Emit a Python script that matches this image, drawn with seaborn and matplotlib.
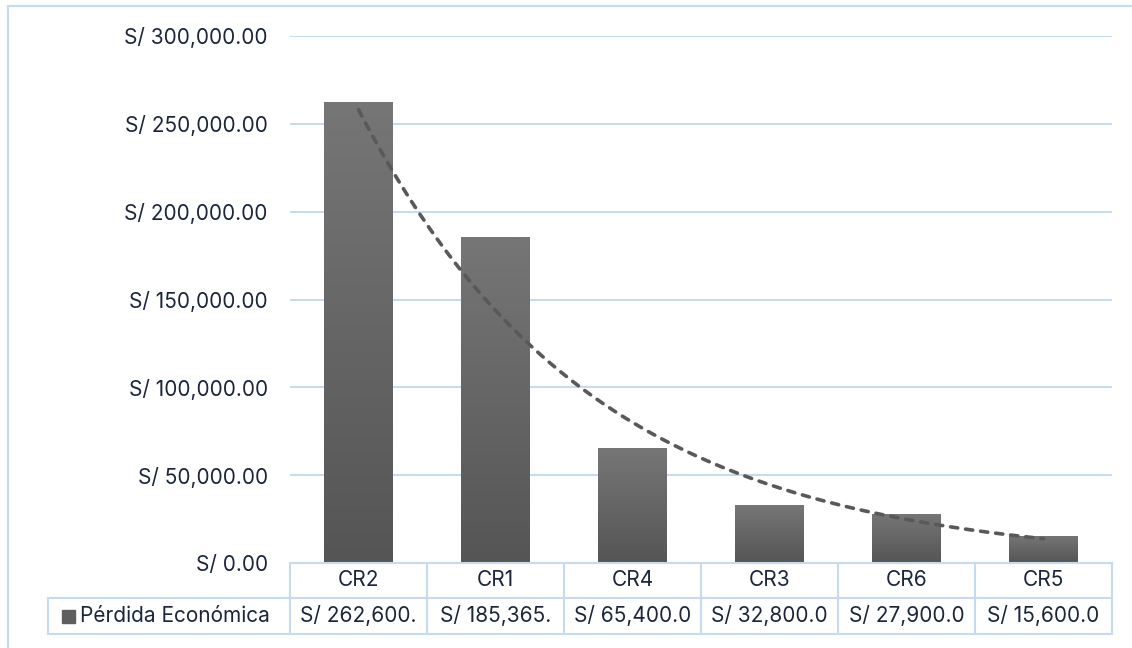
import numpy as np
import pandas as pd
import seaborn as sns
import matplotlib.pyplot as plt
from matplotlib.colors import LinearSegmentedColormap
from matplotlib.patches import Rectangle
from matplotlib.lines import Line2D

# Data
categories = ['CR2', 'CR1', 'CR4', 'CR3', 'CR6', 'CR5']
perdida = [262600, 185365, 65400, 32800, 27900, 15600]
series_name = 'Pérdida Económica'
y_ticks = [0, 50000, 100000, 150000, 200000, 250000, 300000]

df = pd.DataFrame({'categoria': categories, 'perdida': perdida})

sns.set_theme(style='white')
plt.rcParams['font.family'] = ['Inter', 'DejaVu Sans']
text_color = '#1b263b'
grid_color = '#c6daf0'
fsize = 15
W, H = 1132, 648

fig = plt.figure(figsize=(W / 100, H / 100), dpi=100)
ax = fig.add_axes([290 / W, 1 - 563 / H, 822 / W, 527 / H])

sns.barplot(data=df, x='categoria', y='perdida', color='#666666',
            width=0.5, saturation=1, ax=ax, zorder=2)

# Excel-like vertical gradient on every bar
grad = LinearSegmentedColormap.from_list('bar', ['#555555', '#767676'])
gradient = np.linspace(0, 1, 256).reshape(-1, 1)
for p in ax.patches:
    x0, w, h = p.get_x(), p.get_width(), p.get_height()
    p.set_facecolor('none')
    p.set_edgecolor('none')
    im = ax.imshow(gradient, cmap=grad, origin='lower', aspect='auto',
                   extent=[x0, x0 + w, 0, h], zorder=2)
    im.set_clip_path(p)

# Exponential trendline through the bars
xs = np.arange(len(perdida))
b, a = np.polyfit(xs, np.log(perdida), 1)
xt = np.linspace(xs[0], xs[-1], 200)
ax.plot(xt, np.exp(a + b * xt), color='#595959', lw=2.6,
        linestyle=(0, (2.0, 2.2)), dash_capstyle='round', zorder=3)

ax.set_xlim(-0.5, len(categories) - 0.5)
ax.set_ylim(0, 300000)
ax.set_yticks(y_ticks)
ax.set_yticklabels([f'S/ {v:,.2f}' for v in y_ticks])
ax.yaxis.grid(True, color=grid_color, lw=1.4, zorder=0)
ax.set_axisbelow(True)
ax.tick_params(axis='y', length=0, pad=16, labelsize=fsize, labelcolor=text_color)
ax.tick_params(axis='x', length=0, labelbottom=False)
ax.set_xlabel('')
ax.set_ylabel('')
sns.despine(ax=ax, left=True, bottom=True)

# Data table under the plot (drawn in figure pixels)
def fx(px):
    return px / W

def fy(py):
    return 1 - py / H

col_w = 822 / len(categories)
left_cell = 48
top, mid, bot = 563, 598, 634
lkw = dict(color=grid_color, lw=1.5, transform=fig.transFigure)
fig.add_artist(Line2D([fx(290), fx(1112)], [fy(top), fy(top)], **lkw))
fig.add_artist(Line2D([fx(left_cell), fx(1112)], [fy(mid), fy(mid)], **lkw))
fig.add_artist(Line2D([fx(left_cell), fx(1112)], [fy(bot), fy(bot)], **lkw))
fig.add_artist(Line2D([fx(left_cell), fx(left_cell)], [fy(mid), fy(bot)], **lkw))
for i in range(len(categories) + 1):
    xpx = 290 + i * col_w
    fig.add_artist(Line2D([fx(xpx), fx(xpx)], [fy(top), fy(bot)], **lkw))

for i, (cat, val) in enumerate(zip(categories, perdida)):
    cx = 290 + (i + 0.5) * col_w
    fig.text(fx(cx), fy((top + mid) / 2), cat, ha='center', va='center',
             fontsize=fsize, color=text_color)
    label = f'S/ {val:,.2f}'[:11]
    fig.text(fx(cx), fy((mid + bot) / 2), label, ha='center', va='center',
             fontsize=fsize, color=text_color)

fig.add_artist(Rectangle((fx(62), fy(623)), 13 / W, 13 / H, color='#5e5e5e',
                         transform=fig.transFigure))
fig.text(fx(80), fy((mid + bot) / 2), series_name, ha='left', va='center',
         fontsize=fsize, color=text_color)

# Chart area border (cut off by the image edges on right and bottom)
fig.add_artist(Rectangle((fx(8), fy(700)), 1200 / W, 694 / H, fill=False,
                         edgecolor=grid_color, lw=1.6, transform=fig.transFigure))

fig.savefig('out.png', dpi=100)
